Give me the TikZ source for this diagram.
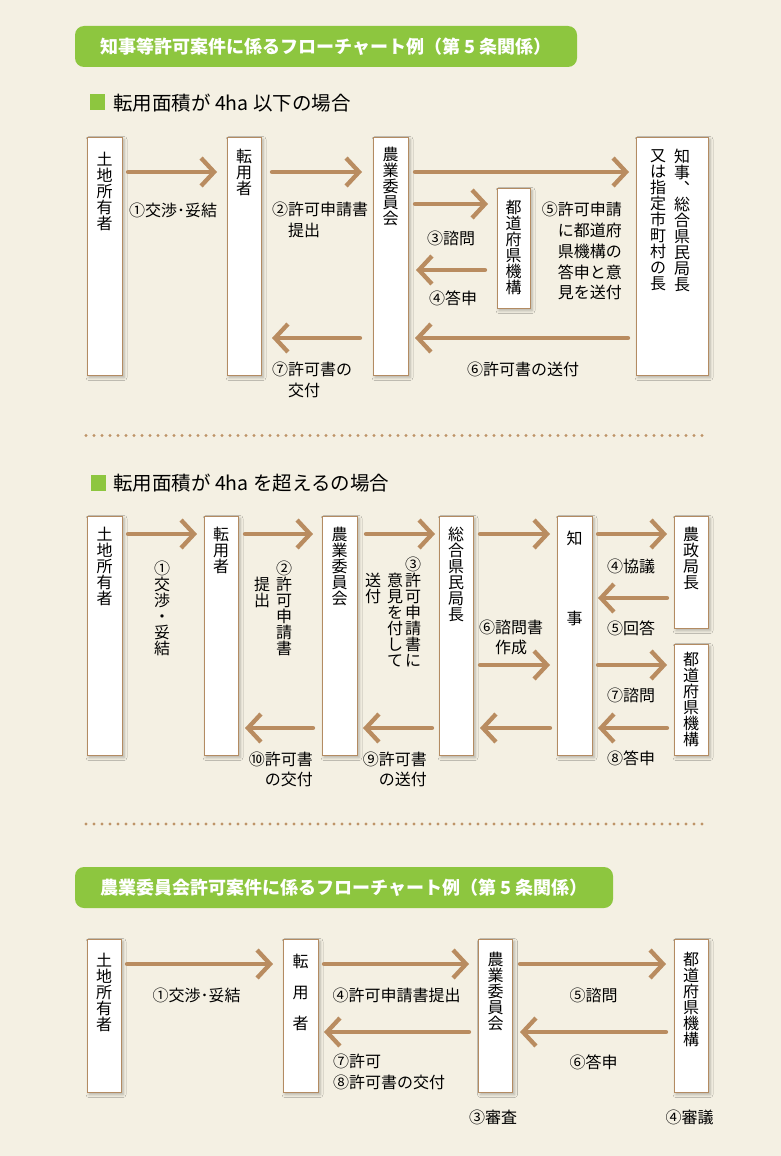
\documentclass[tikz,border=0pt]{standalone}
\usepackage{fontspec}
\setmainfont{Noto Sans CJK JP}
\usetikzlibrary{arrows.meta,shadows.blur}
\definecolor{bg}{HTML}{F4F0E3}
\definecolor{grn}{HTML}{8DC63F}
\definecolor{brn}{HTML}{B98C60}
\definecolor{bord}{HTML}{B38B62}
\definecolor{dotc}{HTML}{BE9468}
\tikzset{
  box/.style={draw=bord, fill=white, line width=0.9pt, anchor=north west, inner sep=0pt, outer sep=0pt,
    blur shadow={shadow xshift=2pt, shadow yshift=-2.5pt, shadow blur radius=3pt, shadow opacity=28}},
  vt/.style={font=\fontsize{16}{16}\selectfont, align=center, inner sep=0pt, anchor=north},
  lb/.style={font=\fontsize{16}{21}\selectfont, inner sep=0pt},
  arr/.style={draw=brn, line width=4.3pt, line cap=round,
    -{Straight Barb[length=13pt, width=28pt, line width=4.3pt]}},
  banner/.style={fill=grn, rounded corners=9pt, text=white, inner sep=0pt,
    font=\fontsize{18}{18}\selectfont\bfseries},
  sq/.style={fill=grn, inner sep=0pt, minimum width=15pt, minimum height=16pt},
  head/.style={font=\fontsize{19.5}{20}\selectfont, inner sep=0pt, anchor=west},
  dotline/.style={draw=dotc, line width=3.4pt, line cap=round, dash pattern=on 0pt off 8pt}
}
\begin{document}
\begin{tikzpicture}[x=1pt, y=-1pt]
\fill[bg] (0,0) rectangle (781,1156);
\useasboundingbox (0,0) rectangle (781,1156);

% ===== Banner 1 =====
\node[banner, minimum width=502pt, minimum height=41pt] (T1) at (326,46.5) {知事等許可案件に係るフローチャート例（第 5 条関係）};
\node[sq] (S1) at (97.5,102) {};
\node[head] (H1) at (113,103) {転用面積が 4ha 以下の場合};

% ===== Section 1 boxes =====
\node[box, minimum width=35pt, minimum height=238pt] (A1) at (87,137) {};
\node[box, minimum width=34pt, minimum height=238pt] (B1) at (227,137) {};
\node[box, minimum width=35pt, minimum height=238pt] (C1) at (373,137) {};
\node[box, minimum width=33pt, minimum height=120pt] (D1) at (497,188) {};
\node[box, minimum width=72pt, minimum height=238pt] (E1) at (636,137) {};

\node[vt] (tA1) at ([yshift=-15pt]A1.north) {土\\地\\所\\有\\者};
\node[vt] (tB1) at ([yshift=-12pt]B1.north) {転\\用\\者};
\node[vt] (tC1) at ([yshift=-10pt]C1.north) {農\\業\\委\\員\\会};
\node[vt] (tD1) at ([yshift=-12pt]D1.north) {都\\道\\府\\県\\機\\構};
\node[vt] (tE1a) at ([shift={(10,12)}]E1.north) {知\\事\\︑\\総\\合\\県\\民\\局\\長};
\node[vt] (tE1b) at ([shift={(-14,12)}]E1.north) {又\\は\\指\\定\\市\\町\\村\\の\\長};

% ===== Section 1 arrows =====
\draw[arr] ([shift={(6,35)}]A1.north east) -- ([shift={(-10,35)}]B1.north west);
\draw[arr] ([shift={(11,35)}]B1.north east) -- ([shift={(-11,35)}]C1.north west);
\draw[arr] ([shift={(-13,201)}]C1.north west) -- ([shift={(11,201)}]B1.north east);
\draw[arr] ([shift={(7,35)}]C1.north east) -- ([shift={(-7,35)}]E1.north west);
\draw[arr] ([shift={(7,67)}]C1.north east) -- ([shift={(-9,16)}]D1.north west);
\draw[arr] ([shift={(-12,82)}]D1.north west) -- ([shift={(8,133)}]C1.north east);
\draw[arr] ([shift={(-8,201)}]E1.north west) -- ([shift={(7,201)}]C1.north east);

% ===== Section 1 labels =====
\node[lb] (l11) at (173,210) {①交渉･妥結};
\node[lb, align=left, anchor=north west] (l12) at (272,202) {②許可申請書\\\hspace*{1em}提出};
\node[lb, align=left, anchor=north west] (l17) at (272,362) {⑦許可書の\\\hspace*{1em}交付};
\node[lb] (l13) at (451,238) {③諮問};
\node[lb] (l14) at (453,298) {④答申};
\node[lb, align=right, anchor=north east, font=\fontsize{16}{20.8}\selectfont] (l15) at (622,202) {⑤許可申請\\に都道府\\県機構の\\答申と意\\見を送付};
\node[lb] (l16) at (523,369) {⑥許可書の送付};

% ===== Separator 1 =====
\draw[dotline] (86,435.5) -- (709,435.5);

% ===== Section 2 =====
\node[sq] (S2) at (98,483) {};
\node[head] (H2) at (113,483) {転用面積が 4ha を超えるの場合};

\node[box, minimum width=35pt, minimum height=239pt] (A2) at (87,516) {};
\node[box, minimum width=34pt, minimum height=239pt] (B2) at (204,516) {};
\node[box, minimum width=35pt, minimum height=239pt] (C2) at (322,516) {};
\node[box, minimum width=34pt, minimum height=239pt] (D2) at (439,516) {};
\node[box, minimum width=35pt, minimum height=239pt] (E2) at (557,516) {};
\node[box, minimum width=34pt, minimum height=112pt] (F2) at (674,516) {};
\node[box, minimum width=34pt, minimum height=111pt] (G2) at (674,644) {};

\node[vt] (tA2) at ([yshift=-11pt]A2.north) {土\\地\\所\\有\\者};
\node[vt] (tB2) at ([yshift=-11pt]B2.north) {転\\用\\者};
\node[vt] (tC2) at ([yshift=-11pt]C2.north) {農\\業\\委\\員\\会};
\node[vt] (tD2) at ([yshift=-11pt]D2.north) {総\\合\\県\\民\\局\\長};
\node[vt] (tE2) at ([yshift=-15pt]E2.north) {知\\[64pt]事};
\node[vt] (tF2) at ([yshift=-11pt]F2.north) {農\\政\\局\\長};
\node[vt] (tG2) at ([yshift=-8pt]G2.north) {都\\道\\府\\県\\機\\構};

\draw[arr] ([shift={(6,18)}]A2.north east) -- ([shift={(-7,18)}]B2.north west);
\draw[arr] ([shift={(7,18)}]B2.north east) -- ([shift={(-9,18)}]C2.north west);
\draw[arr] ([shift={(9,18)}]C2.north east) -- ([shift={(-4,18)}]D2.north west);
\draw[arr] ([shift={(-9,212)}]C2.north west) -- ([shift={(7,212)}]B2.north east);
\draw[arr] ([shift={(-7,212)}]D2.north west) -- ([shift={(6,212)}]C2.north east);
\draw[arr] ([shift={(7,18)}]D2.north east) -- ([shift={(-7,18)}]E2.north west);
\draw[arr] ([shift={(7,149)}]D2.north east) -- ([shift={(-7,149)}]E2.north west);
\draw[arr] ([shift={(-7,212)}]E2.north west) -- ([shift={(7,212)}]D2.north east);
\draw[arr] ([shift={(6,18)}]E2.north east) -- ([shift={(-7,18)}]F2.north west);
\draw[arr] ([shift={(-7,82)}]F2.north west) -- ([shift={(6,82)}]E2.north east);
\draw[arr] ([shift={(6,149)}]E2.north east) -- ([shift={(-7,21)}]G2.north west);
\draw[arr] ([shift={(-7,84)}]G2.north west) -- ([shift={(6,212)}]E2.north east);

\node[vt] (l21) at (162,561) {①\\交\\渉\\・\\妥\\結};
\node[vt] (l22a) at (284,561) {②\\許\\可\\申\\請\\書};
\node[vt] (l22b) at (262,577) {提\\出};
\node[vt] (l23a) at (413,557) {③\\許\\可\\申\\請\\書\\に};
\node[vt] (l23b) at (395,573) {意\\見\\を\\付\\し\\て};
\node[vt] (l23c) at (373,573) {送\\付};
\node[lb, align=right, anchor=north east, font=\fontsize{16}{20}\selectfont] (l210) at (313,752) {⑩許可書\\の交付};
\node[lb, align=right, anchor=north east, font=\fontsize{16}{20}\selectfont] (l29) at (427,752) {⑨許可書\\の送付};
\node[lb, align=center, anchor=north, font=\fontsize{16}{20}\selectfont] (l26) at (511,620) {⑥諮問書\\作成};
\node[lb] (l24) at (631,566) {④協議};
\node[lb] (l25) at (631,628) {⑤回答};
\node[lb] (l27) at (631,695) {⑦諮問};
\node[lb] (l28) at (631,758) {⑧答申};

% ===== Separator 2 =====
\draw[dotline] (86,824) -- (709,824);

% ===== Banner 2 =====
\node[banner, minimum width=538pt, minimum height=41pt] (T2) at (344,887.5) {農業委員会許可案件に係るフローチャート例（第 5 条関係）};

% ===== Section 3 =====
\node[box, minimum width=34pt, minimum height=153pt] (A3) at (87,939) {};
\node[box, minimum width=35pt, minimum height=153pt] (B3) at (283,939) {};
\node[box, minimum width=34pt, minimum height=153pt] (C3) at (478.5,939) {};
\node[box, minimum width=34pt, minimum height=153pt] (D3) at (674,939) {};

\node[vt] (tA3) at ([yshift=-14pt]A3.north) {土\\地\\所\\有\\者};
\node[vt, font=\fontsize{16}{31}\selectfont] (tB3) at ([yshift=-15pt]B3.north) {転\\用\\者};
\node[vt] (tC3) at ([yshift=-13pt]C3.north) {農\\業\\委\\員\\会};
\node[vt] (tD3) at ([yshift=-13pt]D3.north) {都\\道\\府\\県\\機\\構};

\draw[arr] ([shift={(6,25)}]A3.north east) -- ([shift={(-10,25)}]B3.north west);
\draw[arr] ([shift={(6,25)}]B3.north east) -- ([shift={(-9.5,25)}]C3.north west);
\draw[arr] ([shift={(7.5,25)}]C3.north east) -- ([shift={(-8,25)}]D3.north west);
\draw[arr] ([shift={(-9.5,93)}]C3.north west) -- ([shift={(6,93)}]B3.north east);
\draw[arr] ([shift={(-8,93)}]D3.north west) -- ([shift={(7.5,93)}]C3.north east);

\node[lb] (l31) at (196.5,995) {①交渉･妥結};
\node[lb] (l34) at (396.5,995) {④許可申請書提出};
\node[lb] (l35) at (593.5,995) {⑤諮問};
\node[lb, align=left, anchor=north west] (l37) at (333,1054) {⑦許可\\⑧許可書の交付};
\node[lb] (l36) at (593.5,1062) {⑥答申};
\node[lb] (l33) at (493,1117) {③審査};
\node[lb] (l344) at (689.5,1117) {④審議};
\end{tikzpicture}
\end{document}
